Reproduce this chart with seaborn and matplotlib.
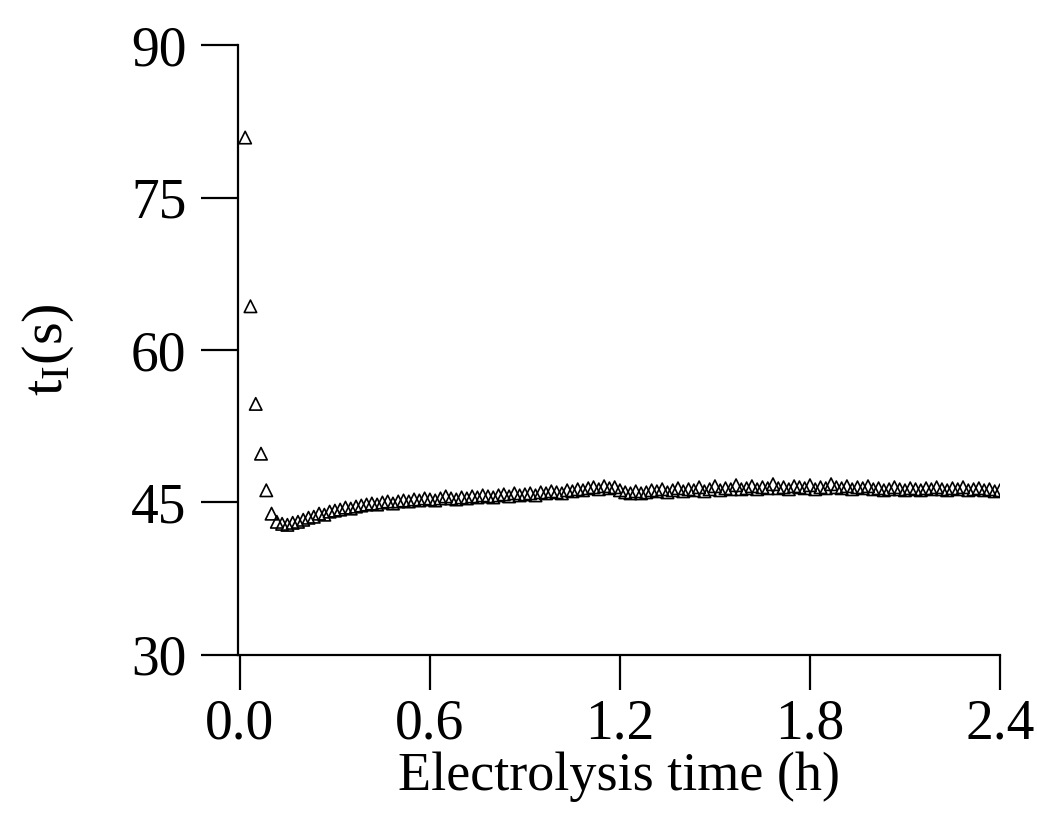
import matplotlib
matplotlib.use("Agg")
import matplotlib.pyplot as plt
import seaborn as sns
import pandas as pd

sns.set_style("ticks", {"axes.edgecolor": "black", "text.color": "black",
                        "xtick.color": "black", "ytick.color": "black",
                        "axes.labelcolor": "black"})
plt.rcParams['font.family'] = ['Liberation Serif', 'DejaVu Serif']
plt.rcParams['mathtext.fontset'] = 'custom'
plt.rcParams['mathtext.rm'] = 'Liberation Serif'

# sampling every minute, converted to hours
minutes = list(range(1, 145))
ti = [
    80.9, 64.3, 54.7, 49.8, 46.2, 43.9,
    43.1, 42.9, 42.8, 43.0, 43.1, 43.3,
    43.5, 43.6, 43.9, 43.8, 44.1, 44.2,
    44.3, 44.5, 44.4, 44.6, 44.7, 44.8,
    44.9, 44.8, 45.0, 45.1, 44.9, 45.1,
    45.2, 45.1, 45.3, 45.2, 45.4, 45.3,
    45.2, 45.4, 45.6, 45.4, 45.3, 45.5,
    45.4, 45.6, 45.5, 45.7, 45.6, 45.5,
    45.7, 45.8, 45.6, 45.9, 45.7, 45.8,
    45.9, 45.7, 46.0, 45.9, 46.1, 46.0,
    45.9, 46.2, 46.1, 46.3, 46.2, 46.4,
    46.5, 46.3, 46.6, 46.4, 46.5, 46.2,
    46.0, 45.9, 46.1, 45.9, 46.0, 46.2,
    46.1, 46.3, 46.0, 46.2, 46.4, 46.1,
    46.3, 46.2, 46.5, 46.1, 46.3, 46.6,
    46.2, 46.4, 46.3, 46.7, 46.3, 46.4,
    46.6, 46.3, 46.5, 46.4, 46.8, 46.4,
    46.5, 46.3, 46.6, 46.5, 46.4, 46.7,
    46.3, 46.5, 46.4, 46.8, 46.5, 46.4,
    46.6, 46.3, 46.5, 46.4, 46.6, 46.3,
    46.4, 46.2, 46.3, 46.5, 46.3, 46.2,
    46.4, 46.3, 46.2, 46.4, 46.3, 46.5,
    46.3, 46.2, 46.4, 46.3, 46.5, 46.2,
    46.3, 46.4, 46.2, 46.3, 46.1, 46.2,
]
xticks = [0.0, 0.6, 1.2, 1.8, 2.4]
yticks = [30, 45, 60, 75, 90]

df = pd.DataFrame({"time": [m / 60 for m in minutes], "ti": ti})

fig = plt.figure(figsize=(10.37, 8.17), dpi=100)
ax = fig.add_axes([0.2295, 0.1983, 0.7348, 0.7466])
sns.scatterplot(data=df, x="time", y="ti", ax=ax, marker="^", s=80,
                facecolors="none", edgecolors="black", linewidth=1.2)

ax.set_xlim(-0.006, 2.4)
ax.set_ylim(30, 90)
ax.set_xticks(xticks)
ax.set_xticklabels([f"{v:.1f}" for v in xticks])
ax.set_yticks(yticks)
ax.set_yticklabels([str(v) for v in yticks])
ax.tick_params(axis="y", direction="out", length=27, width=1.6, pad=10, labelsize=40)
ax.tick_params(axis="x", direction="out", length=25, width=1.6, pad=6, labelsize=40)
for s in ["left", "bottom"]:
    ax.spines[s].set_linewidth(1.6)
sns.despine(ax=ax)

ax.set_xlabel("Electrolysis time (h)", fontsize=39, labelpad=1)
ax.set_ylabel(r"$\mathregular{t_I(s)}$", fontsize=42, labelpad=40)

fig.savefig("out.png", dpi=100, facecolor="white")
